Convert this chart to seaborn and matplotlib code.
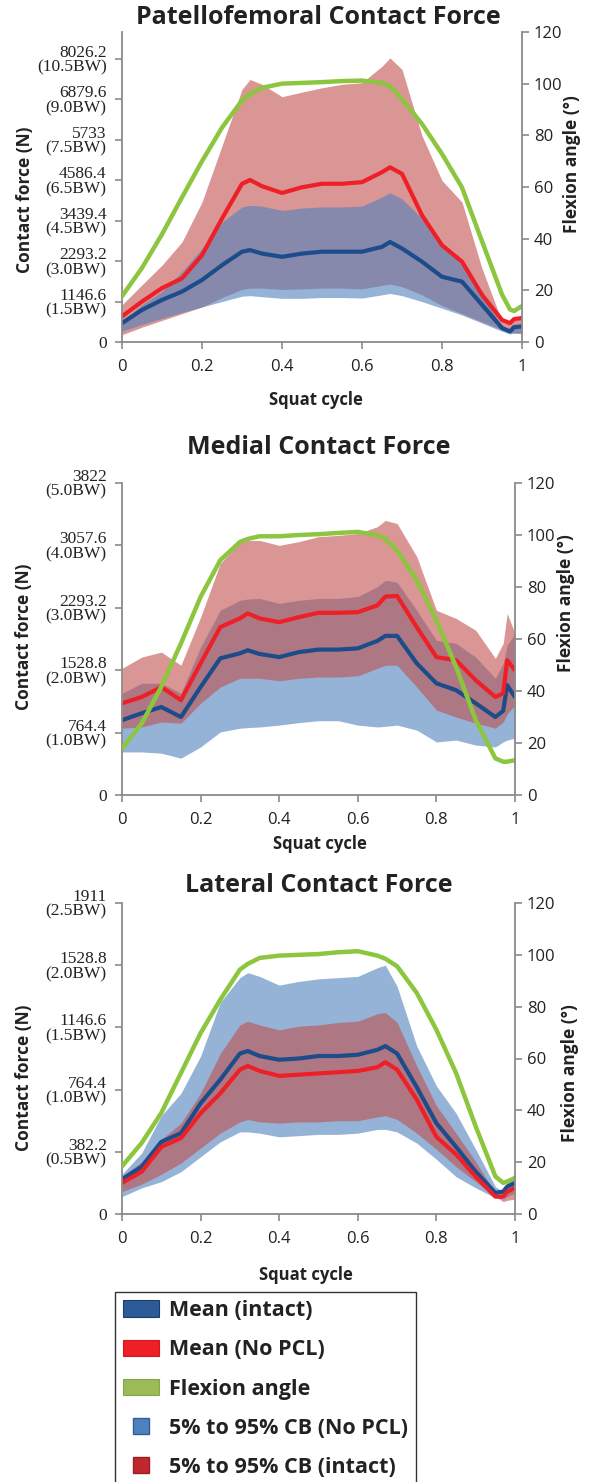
import numpy as np
import pandas as pd
import matplotlib
matplotlib.use('Agg')
import matplotlib.pyplot as plt
import seaborn as sns
from matplotlib.patches import Patch
from matplotlib.lines import Line2D

sns.set_style('ticks')
plt.rcParams['font.family'] = ['Open Sans', 'DejaVu Sans']

BW = 764.4  # N per body weight

squat = [0, 0.05, 0.1, 0.15, 0.2, 0.25, 0.3, 0.32, 0.35, 0.4, 0.45, 0.5, 0.55,
         0.6, 0.65, 0.67, 0.7, 0.75, 0.8, 0.85, 0.9, 0.95, 0.97, 0.98, 1.0]

# ---------- Patellofemoral (values in BW, angle in degrees) ----------
pf_angle = [17.7, 28.7, 41.7, 56, 70, 83, 93.5, 96, 98.4, 100, 100.3, 100.6, 101,
            101.2, 100.3, 99.0, 94, 84.4, 72.8, 59.8, 39, 18.4, 12.6, 12, 13.9]
pf_red_mean = [0.95, 1.50, 2.0, 2.36, 3.22, 4.58, 5.87, 6.01, 5.78, 5.53, 5.74, 5.87, 5.87,
               5.93, 6.30, 6.48, 6.24, 4.70, 3.59, 2.98, 1.75, 0.82, 0.70, 0.85, 0.89]
pf_blue_mean = [0.70, 1.19, 1.56, 1.87, 2.30, 2.85, 3.35, 3.41, 3.28, 3.16, 3.28, 3.35, 3.35,
                3.35, 3.53, 3.71, 3.47, 2.98, 2.42, 2.24, 1.38, 0.52, 0.39, 0.55, 0.58]
pf_red_hi = [1.38, 2.12, 2.85, 3.71, 5.19, 7.28, 9.37, 9.74, 9.56, 9.10, 9.27, 9.43, 9.56,
             9.62, 10.23, 10.54, 10.11, 7.65, 5.99, 5.19, 2.73, 0.76, 0.75, 0.85, 0.95]
pf_red_lo = [0.27, 0.55, 0.80, 1.05, 1.30, 1.65, 1.95, 2.0, 2.0, 1.95, 1.97, 2.0, 2.0,
             1.97, 2.1, 2.15, 2.05, 1.75, 1.35, 1.05, 0.75, 0.45, 0.38, 0.34, 0.30]
pf_blue_hi = [0.76, 1.38, 1.87, 2.61, 3.47, 4.45, 5.01, 5.07, 5.04, 4.88, 4.97, 5.01, 5.01,
              5.04, 5.38, 5.54, 5.31, 4.58, 3.71, 2.85, 1.75, 0.58, 0.45, 0.60, 0.65]
pf_blue_lo = [0.40, 0.65, 0.88, 1.10, 1.30, 1.50, 1.70, 1.72, 1.68, 1.62, 1.62, 1.65, 1.65,
              1.63, 1.75, 1.80, 1.72, 1.50, 1.25, 1.00, 0.70, 0.40, 0.30, 0.32, 0.35]

# ---------- Medial ----------
med_angle = [17.9, 27.5, 41.6, 58.3, 76.2, 90.3, 97.3, 98.5, 99.5, 99.5, 100.0, 100.3, 100.8,
             101.2, 99.9, 98.5, 94.1, 82.6, 67.2, 49.3, 28.8, 14.1, 12.8, 12.8, 13.4]
med_red_mean = [1.47, 1.57, 1.73, 1.52, 2.11, 2.69, 2.83, 2.91, 2.83, 2.77, 2.85, 2.92, 2.92,
                2.93, 3.04, 3.18, 3.19, 2.69, 2.21, 2.16, 1.84, 1.57, 1.63, 2.16, 2.0]
med_blue_mean = [1.20, 1.31, 1.41, 1.25, 1.73, 2.19, 2.27, 2.32, 2.26, 2.21, 2.29, 2.33, 2.33,
                 2.35, 2.47, 2.55, 2.55, 2.11, 1.79, 1.68, 1.47, 1.25, 1.35, 1.76, 1.57]
med_red_hi = [2.03, 2.21, 2.29, 2.08, 2.85, 3.71, 4.06, 4.08, 4.08, 4.00, 4.06, 4.14, 4.16,
              4.19, 4.30, 4.40, 4.35, 3.82, 2.96, 2.83, 2.64, 2.19, 2.43, 2.91, 2.59]
med_red_lo = [1.07, 1.09, 1.17, 1.15, 1.47, 1.73, 1.87, 1.87, 1.87, 1.83, 1.87, 1.89, 1.89,
              1.91, 2.03, 2.08, 2.08, 1.73, 1.36, 1.25, 1.15, 1.07, 1.17, 1.30, 1.44]
med_blue_hi = [1.63, 1.79, 1.79, 1.63, 2.37, 2.96, 3.12, 3.14, 3.15, 3.07, 3.12, 3.15, 3.15,
               3.18, 3.34, 3.44, 3.41, 2.96, 2.48, 2.43, 2.21, 1.87, 2.11, 2.40, 2.59]
med_blue_lo = [0.69, 0.69, 0.67, 0.59, 0.77, 1.01, 1.07, 1.08, 1.09, 1.12, 1.16, 1.19, 1.19,
               1.12, 1.09, 1.10, 1.12, 1.04, 0.85, 0.88, 0.80, 0.77, 0.85, 0.88, 0.91]

# ---------- Lateral ----------
lat_angle = [18.4, 27.4, 39.0, 54.4, 69.8, 82.7, 94.3, 96.5, 98.8, 99.7, 100.0, 100.3, 101.0,
             101.4, 99.7, 98.5, 95.6, 85.3, 71.1, 54.4, 33.8, 14.5, 12.0, 12.5, 13.9]
lat_blue_mean = [0.28, 0.38, 0.58, 0.65, 0.89, 1.08, 1.29, 1.31, 1.27, 1.24, 1.25, 1.27, 1.27,
                 1.28, 1.32, 1.35, 1.29, 1.02, 0.73, 0.54, 0.34, 0.17, 0.18, 0.22, 0.25]
lat_red_mean = [0.25, 0.34, 0.54, 0.61, 0.81, 0.97, 1.16, 1.19, 1.15, 1.11, 1.12, 1.13, 1.14,
                1.15, 1.18, 1.22, 1.16, 0.92, 0.62, 0.48, 0.30, 0.14, 0.14, 0.18, 0.21]
lat_blue_hi = [0.32, 0.49, 0.79, 0.97, 1.27, 1.70, 1.90, 1.94, 1.91, 1.84, 1.87, 1.89, 1.90,
               1.91, 1.98, 2.00, 1.83, 1.35, 1.03, 0.81, 0.52, 0.22, 0.18, 0.25, 0.33]
lat_red_hi = [0.30, 0.42, 0.60, 0.73, 0.97, 1.29, 1.52, 1.55, 1.52, 1.48, 1.51, 1.52, 1.54,
              1.55, 1.61, 1.62, 1.54, 1.19, 0.87, 0.65, 0.42, 0.17, 0.12, 0.17, 0.21]
lat_red_lo = [0.18, 0.24, 0.32, 0.41, 0.53, 0.65, 0.74, 0.76, 0.74, 0.73, 0.74, 0.74, 0.75,
              0.75, 0.78, 0.79, 0.76, 0.65, 0.52, 0.38, 0.26, 0.14, 0.10, 0.11, 0.12]
lat_blue_lo = [0.14, 0.21, 0.26, 0.34, 0.46, 0.58, 0.66, 0.66, 0.65, 0.62, 0.63, 0.64, 0.64,
               0.65, 0.68, 0.68, 0.66, 0.57, 0.44, 0.30, 0.21, 0.13, 0.12, 0.14, 0.17]

# tick values / labels
pf_ticks = [0, 1146.6, 2293.2, 3439.4, 4586.4, 5733, 6879.6, 8026.2]
pf_labels = ['0', '1146.6\n(1.5BW)', '2293.2\n(3.0BW)', '3439.4\n(4.5BW)', '4586.4\n(6.5BW)',
             '5733\n(7.5BW)', '6879.6\n(9.0BW)', '8026.2\n(10.5BW)']
med_ticks = [0, 764.4, 1528.8, 2293.2, 3057.6, 3822]
med_labels = ['0', '764.4\n(1.0BW)', '1528.8\n(2.0BW)', '2293.2\n(3.0BW)', '3057.6\n(4.0BW)',
              '3822\n(5.0BW)']
lat_ticks = [0, 382.2, 764.4, 1146.6, 1528.8, 1911]
lat_labels = ['0', '382.2\n(0.5BW)', '764.4\n(1.0BW)', '1146.6\n(1.5BW)', '1528.8\n(2.0BW)',
              '1911\n(2.5BW)']
x_ticks = [0, 0.2, 0.4, 0.6, 0.8, 1]
x_labels = ['0', '0.2', '0.4', '0.6', '0.8', '1']
angle_ticks = [0, 20, 40, 60, 80, 100, 120]

RED_BAND = '#c0504d'
BLUE_BAND = '#4f81bd'
NAVY = '#1d4c8a'
RED = '#ee1f26'
GREEN = '#8cc63f'
GRAY = '#8a8a8a'
TXT = '#222222'

fig = plt.figure(figsize=(5.89, 14.82), dpi=100)
H = 1482.0
W = 589.0

panels = [
    dict(title='Patellofemoral Contact Force', box=(122, 522, 32, 342), ymax=8790.6,
         ticks=pf_ticks, labels=pf_labels, angle=pf_angle, rm=pf_red_mean, bm=pf_blue_mean,
         rh=pf_red_hi, rl=pf_red_lo, bh=pf_blue_hi, bl=pf_blue_lo, blue_top=True,
         title_xy=(318, 18), ylab=(-0.22, 0.46), rlab=(1.1025, 0.574), xlab=(0.485, -0.158)),
    dict(title='Medial Contact Force', box=(122, 515, 483, 795), ymax=3822,
         ticks=med_ticks, labels=med_labels, angle=med_angle, rm=med_red_mean, bm=med_blue_mean,
         rh=med_red_hi, rl=med_red_lo, bh=med_blue_hi, bl=med_blue_lo, blue_top=False,
         title_xy=(319, 447), ylab=(-0.226, 0.506), rlab=(1.107, 0.615), xlab=(0.504, -0.128)),
    dict(title='Lateral Contact Force', box=(122, 515, 903, 1214), ymax=1911,
         ticks=lat_ticks, labels=lat_labels, angle=lat_angle, rm=lat_red_mean, bm=lat_blue_mean,
         rh=lat_red_hi, rl=lat_red_lo, bh=lat_blue_hi, bl=lat_blue_lo, blue_top=False,
         title_xy=(319, 885), ylab=(-0.226, 0.437), rlab=(1.117, 0.453), xlab=(0.469, -0.167)),
]

for p in panels:
    x0, x1, yt, yb = p['box']
    ax = fig.add_axes([x0 / W, 1 - yb / H, (x1 - x0) / W, (yb - yt) / H])
    x = np.array(squat)
    f = lambda v: np.array(v) * BW
    red_kw = dict(color=RED_BAND, alpha=0.6, lw=0)
    blue_kw = dict(color=BLUE_BAND, alpha=0.6, lw=0)
    if p['blue_top']:
        ax.fill_between(x, f(p['rl']), f(p['rh']), **red_kw)
        ax.fill_between(x, f(p['bl']), f(p['bh']), **blue_kw)
    else:
        ax.fill_between(x, f(p['bl']), f(p['bh']), **blue_kw)
        ax.fill_between(x, f(p['rl']), f(p['rh']), **red_kw)
    df = pd.DataFrame({'x': x, 'red': f(p['rm']), 'blue': f(p['bm']), 'angle': p['angle']})
    sns.lineplot(data=df, x='x', y='blue', ax=ax, color=NAVY, lw=3.0)
    sns.lineplot(data=df, x='x', y='red', ax=ax, color=RED, lw=3.0)
    ax.set_xlim(0, 1)
    ax.set_ylim(0, p['ymax'])
    ax.set_yticks(p['ticks'])
    ax.set_yticklabels(p['labels'], family=['Liberation Serif'], fontsize=12.5, linespacing=0.9)
    ax.set_xticks(x_ticks)
    ax.set_xticklabels(x_labels, fontsize=12)
    for s in ['top', 'right']:
        ax.spines[s].set_visible(False)
    for s in ['left', 'bottom']:
        ax.spines[s].set_color(GRAY)
        ax.spines[s].set_linewidth(1.3)
    ax.tick_params(axis='both', colors=GRAY, labelcolor=TXT, length=5, width=1.2)
    ax.tick_params(axis='y', pad=6)
    ax.tick_params(axis='x', pad=7)
    ax.set_xlabel('Squat cycle', fontsize=12, fontweight='bold', color=TXT)
    ax.xaxis.set_label_coords(*p['xlab'])
    ax.set_ylabel('Contact force (N)', fontsize=12.5, fontweight='bold', color=TXT)
    ax.yaxis.set_label_coords(*p['ylab'])

    ax2 = ax.twinx()
    sns.lineplot(data=df, x='x', y='angle', ax=ax2, color=GREEN, lw=3.2)
    ax2.set_ylim(0, 120)
    ax2.set_yticks(angle_ticks)
    ax2.set_yticklabels([str(t) for t in angle_ticks], fontsize=12)
    for s in ['top', 'left', 'bottom']:
        ax2.spines[s].set_visible(False)
    ax2.spines['right'].set_color(GRAY)
    ax2.spines['right'].set_linewidth(1.3)
    ax2.tick_params(axis='y', colors=GRAY, labelcolor=TXT, length=5, width=1.2)
    ax2.set_ylabel('Flexion angle (°)', fontsize=12.5, fontweight='bold', color=TXT)
    ax2.yaxis.set_label_coords(*p['rlab'])
    ax2.set_xlim(0, 1)

    fig.text(p['title_xy'][0] / W, 1 - p['title_xy'][1] / H, p['title'], ha='center',
             va='center', fontsize=18, fontweight='bold', color=TXT)

handles = [
    Patch(facecolor='#2d5b98', edgecolor='#1c3d6b', lw=0.8),
    Patch(facecolor='#ee1f26', edgecolor='#d01a20', lw=0.8),
    Patch(facecolor='#9bbb59', edgecolor='#86a64a', lw=0.8),
    Line2D([], [], marker='s', ls='', markersize=12, markerfacecolor='#4f81bd',
           markeredgecolor='#2f5f9a'),
    Line2D([], [], marker='s', ls='', markersize=12, markerfacecolor='#c0282d',
           markeredgecolor='#9a1f23'),
]
labels = ['Mean (intact)', 'Mean (No PCL)', 'Flexion angle', '5% to 95% CB (No PCL)',
          '5% to 95% CB (intact)']
leg = fig.legend(handles, labels, loc='upper left', bbox_to_anchor=(115 / W, 1 - 1292 / H),
                 borderaxespad=0, frameon=True, fancybox=False, edgecolor='black',
                 prop={'weight': 'bold', 'size': 15.5}, handlelength=1.67, handleheight=0.8,
                 handletextpad=0.47, labelspacing=0.85, borderpad=0.37)
leg.get_frame().set_linewidth(1.0)
for t in leg.get_texts():
    t.set_color(TXT)

fig.savefig('out.png', dpi=100)
